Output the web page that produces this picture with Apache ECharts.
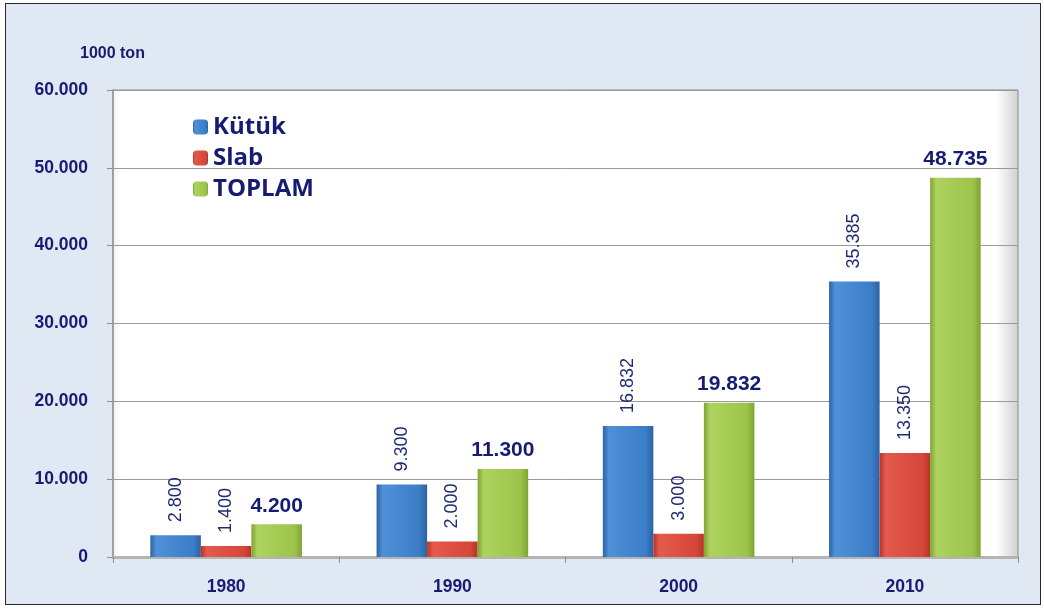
<!DOCTYPE html>
<html>
<head>
<meta charset="utf-8">
<script src="https://cdn.jsdelivr.net/npm/echarts@6/dist/echarts.min.js"></script>
<style>
  html, body { margin: 0; padding: 0; background: #ffffff; }
  #frame { position: absolute; left: 5px; top: 3px; width: 1034px; height: 600px;
           border: 1px solid #2a2a2a; background: #dfe8f3; }
  #chart { position: absolute; left: 0; top: 0; width: 1044px; height: 609px; }
</style>
</head>
<body>
<div id="frame"></div>
<div id="chart"></div>
<script>
var years = ['1980', '1990', '2000', '2010'];
var kutuk = [2800, 9300, 16832, 35385];
var slab = [1400, 2000, 3000, 13350];
var toplam = [4200, 11300, 19832, 48735];
var seriesNames = ['Kütük', 'Slab', 'TOPLAM'];

var navy = '#161c72';

// 1234 -> 1.234
function dotFmt(v) {
	return String(v).replace(/\B(?=(\d{3})+(?!\d))/g, '.');
}

function barGrad(c0, c1, c2) {
	return new echarts.graphic.LinearGradient(0, 0, 1, 0, [
		{offset: 0, color: c2},
		{offset: 0.12, color: c1},
		{offset: 0.85, color: c0},
		{offset: 1, color: c2}
	]);
}

var sideLabel = {
	show: true,
	position: 'top',
	rotate: 90,
	align: 'left',
	verticalAlign: 'middle',
	distance: 13,
	fontFamily: 'Liberation Sans',
	fontSize: 18,
	color: '#1f2a70',
	formatter: function (p) { return dotFmt(p.value); }
};

var chart = echarts.init(document.getElementById('chart'));
chart.setOption({
	backgroundColor: 'transparent',
	animation: false,
	title: {
		text: '1000 ton',
		left: 75,
		top: 41,
		textStyle: {fontFamily: 'Liberation Sans', fontWeight: 'bold', fontSize: 16, color: navy}
	},
	legend: {
		data: seriesNames,
		orient: 'vertical',
		left: 188,
		top: 110,
		itemWidth: 15,
		itemHeight: 15,
		itemGap: 7,
		textStyle: {fontFamily: 'Open Sans', fontWeight: 'bold', fontSize: 24, color: navy}
	},
	grid: {
		left: 113,
		right: 26,
		top: 90,
		bottom: 52,
		show: true,
		borderWidth: 1,
		borderColor: '#8c8c8c',
		backgroundColor: new echarts.graphic.LinearGradient(0, 0, 1, 0, [
			{offset: 0, color: '#f2f2f2'},
			{offset: 0.01, color: '#ffffff'},
			{offset: 0.975, color: '#ffffff'},
			{offset: 1, color: '#d0d0d0'}
		])
	},
	xAxis: {
		type: 'category',
		data: years,
		axisLine: {lineStyle: {color: '#b4b4b4', width: 3}},
		axisTick: {show: true, alignWithLabel: false, length: 6, lineStyle: {color: '#909090'}},
		axisLabel: {
			margin: 21,
			fontFamily: 'Liberation Sans',
			fontWeight: 'bold',
			fontSize: 17.5,
			color: navy
		}
	},
	yAxis: {
		type: 'value',
		min: 0,
		max: 60000,
		interval: 10000,
		axisLine: {show: true, lineStyle: {color: '#a0a0a0', width: 2}},
		axisTick: {show: true, length: 6, lineStyle: {color: '#909090'}},
		splitLine: {lineStyle: {color: '#9a9a9a', width: 1}},
		axisLabel: {
			margin: 25,
			fontFamily: 'Liberation Sans',
			fontWeight: 'bold',
			fontSize: 17.5,
			color: navy,
			formatter: dotFmt
		}
	},
	series: [
		{
			name: seriesNames[0],
			type: 'bar',
			data: kutuk,
			barGap: '0%',
			barCategoryGap: '33%',
			itemStyle: {color: barGrad('#3b7dc6', '#4f90d8', '#2c62a4')},
			label: sideLabel
		},
		{
			name: seriesNames[1],
			type: 'bar',
			data: slab,
			itemStyle: {color: barGrad('#d6463a', '#e45a4c', '#b63428')},
			label: sideLabel
		},
		{
			name: seriesNames[2],
			type: 'bar',
			data: toplam,
			itemStyle: {color: barGrad('#9cc44c', '#aed25e', '#7fa332')},
			label: {
				show: true,
				position: 'top',
				distance: 8,
				fontFamily: 'Liberation Sans',
				fontWeight: 'bold',
				fontSize: 21,
				color: navy,
				formatter: function (p) { return dotFmt(p.value); }
			}
		}
	]
});
</script>
</body>
</html>
